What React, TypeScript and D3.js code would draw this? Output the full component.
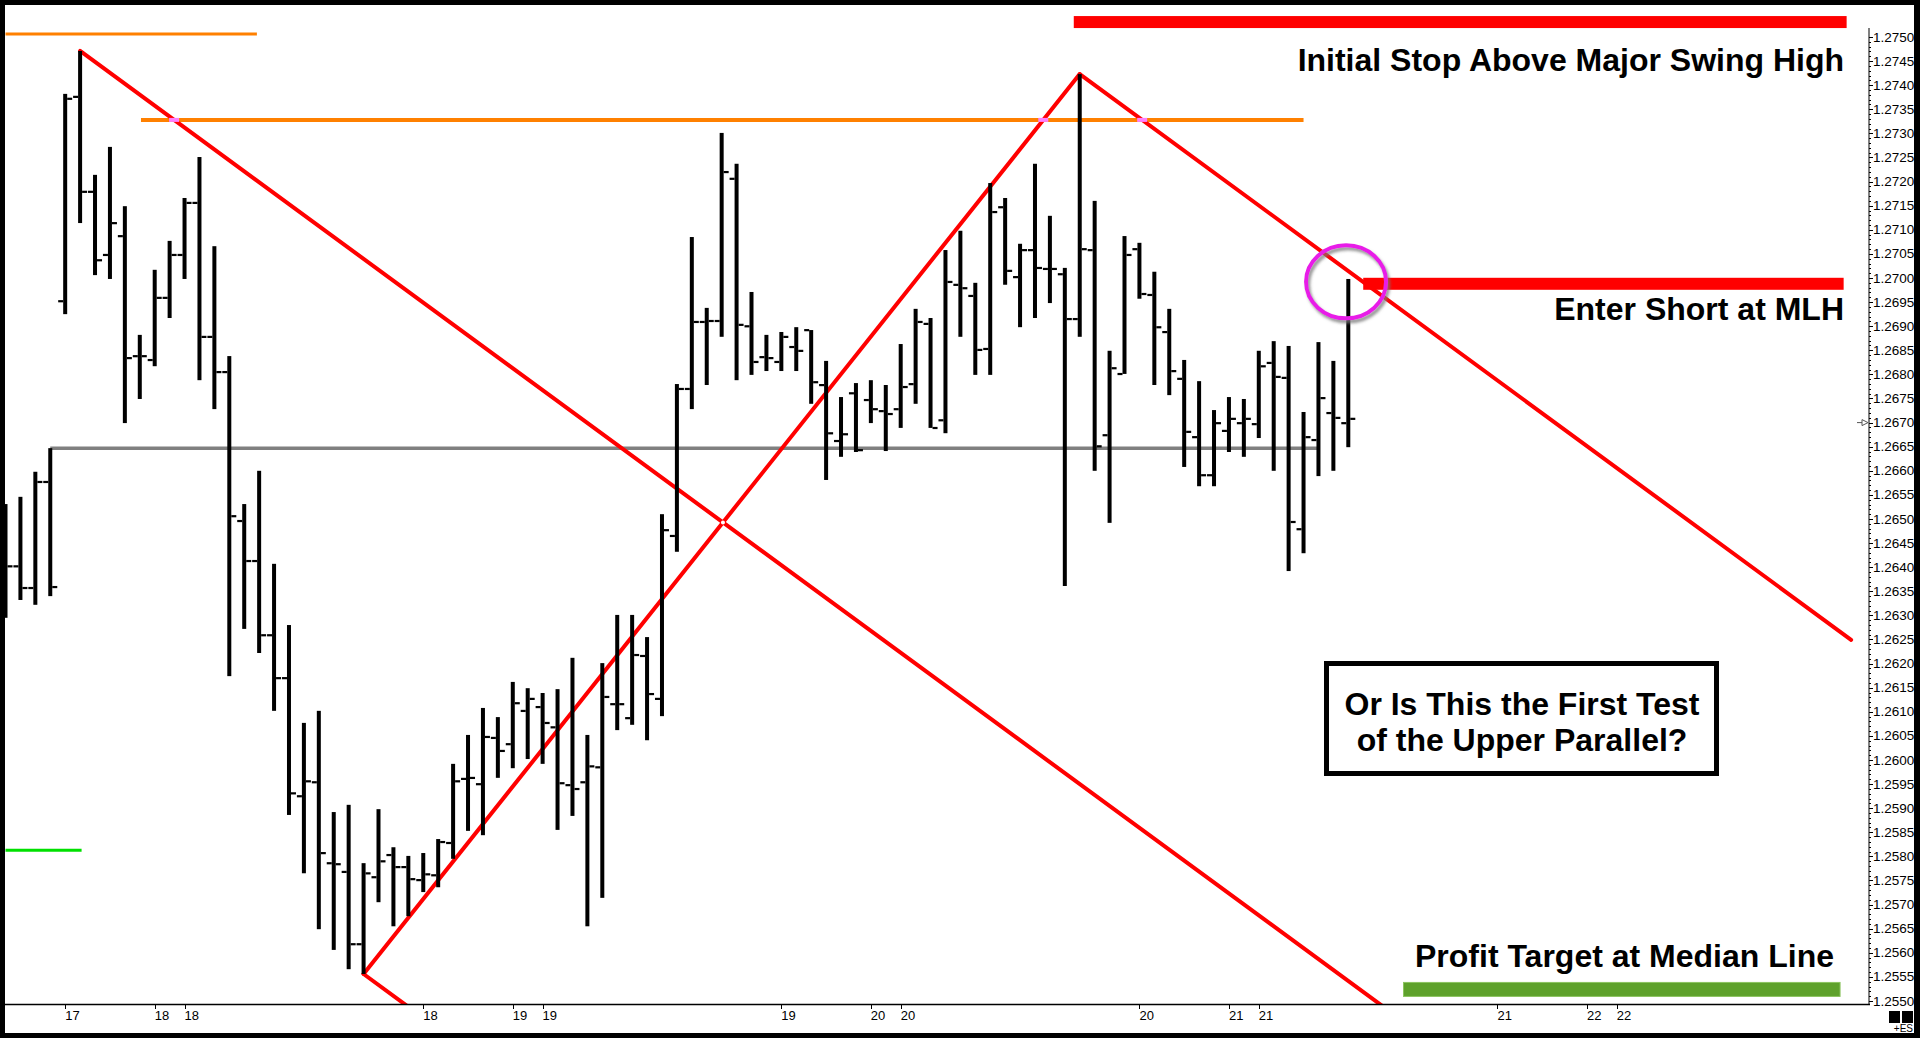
import React from "react";
import * as d3 from "d3";

// ---------- OHLC hourly bars (bar index 0..90) ----------
const OPEN = [
  1.26477, 1.26402, 1.26357, 1.26577, 1.26952, 1.27376, 1.27179, 1.27048, 1.27087, 1.26838,
  1.2683, 1.26959, 1.27048, 1.27156, 1.26878, 1.26805, 1.26496, 1.26413, 1.26259, 1.2617,
  1.25925, 1.25954, 1.25786, 1.25768, 1.25618, 1.25757, 1.25803, 1.25778, 1.25751, 1.25761,
  1.25828, 1.25961, 1.2595, 1.26046, 1.26033, 1.26102, 1.2611, 1.26068, 1.25948, 1.25954,
  1.25985, 1.26116, 1.26087, 1.26216, 1.26127, 1.26465, 1.2677, 1.26909, 1.26911, 1.27206,
  1.269, 1.26836, 1.26826, 1.26857, 1.26892, 1.26778, 1.26662, 1.26761, 1.26747, 1.26724,
  1.26728, 1.2678, 1.26905, 1.26705, 1.26986, 1.26963, 1.26853, 1.27147, 1.27002, 1.27058,
  1.27019, 1.27008, 1.26915, 1.27058, 1.26674, 1.26801, 1.2706, 1.26965, 1.26888, 1.26791,
  1.2667, 1.26591, 1.26683, 1.26699, 1.26697, 1.26824, 1.26793, 1.26479, 1.26664, 1.2672,
  1.26699,
];
const HIGH = [
  1.26531, 1.26546, 1.26598, 1.26647, 1.27382, 1.27471, 1.27214, 1.27272, 1.27149, 1.26882,
  1.27017, 1.27077, 1.27166, 1.27251, 1.27066, 1.26838, 1.26531, 1.266, 1.26407, 1.2628,
  1.26077, 1.26102, 1.25892, 1.25907, 1.25786, 1.25898, 1.25819, 1.25801, 1.25807, 1.25836,
  1.25992, 1.26052, 1.26108, 1.26089, 1.26162, 1.26149, 1.26139, 1.26147, 1.26212, 1.26052,
  1.26201, 1.26301, 1.26301, 1.26255, 1.2651, 1.2678, 1.27085, 1.26938, 1.27301, 1.27237,
  1.26971, 1.26882, 1.26888, 1.26898, 1.26892, 1.26828, 1.26753, 1.26782, 1.26788, 1.26778,
  1.26863, 1.26936, 1.26917, 1.27058, 1.27098, 1.2699, 1.27197, 1.27166, 1.27071, 1.27237,
  1.27129, 1.27021, 1.27423, 1.2716, 1.26849, 1.27087, 1.27073, 1.27013, 1.26936, 1.2683,
  1.26786, 1.26726, 1.26753, 1.26749, 1.26849, 1.26869, 1.26859, 1.26722, 1.26867, 1.26828,
  1.26998,
];
const LOW = [
  1.26295, 1.26332, 1.26322, 1.2634, 1.26925, 1.27114, 1.27006, 1.26998, 1.26699, 1.26749,
  1.26817, 1.26917, 1.26998, 1.26788, 1.26728, 1.26174, 1.26272, 1.26222, 1.26102, 1.25886,
  1.25765, 1.25649, 1.25606, 1.25566, 1.25556, 1.25705, 1.25655, 1.25676, 1.25726, 1.25736,
  1.25795, 1.25853, 1.25844, 1.25963, 1.25983, 1.26002, 1.25992, 1.25855, 1.25884, 1.25655,
  1.25714, 1.26062, 1.26073, 1.26041, 1.26091, 1.26432, 1.26728, 1.26778, 1.26878, 1.26788,
  1.26799, 1.26807, 1.26807, 1.26807, 1.26739, 1.26581, 1.26629, 1.26639, 1.26699, 1.26641,
  1.26689, 1.26739, 1.26689, 1.26678, 1.26878, 1.26799, 1.26799, 1.26986, 1.26898, 1.26917,
  1.26948, 1.26361, 1.26878, 1.266, 1.26492, 1.26801, 1.26957, 1.26778, 1.26757, 1.26608,
  1.26568, 1.26568, 1.26639, 1.26629, 1.26668, 1.266, 1.26392, 1.26429, 1.26589, 1.266,
  1.26649,
];
const CLOSE = [
  1.26402, 1.26357, 1.26577, 1.26359, 1.27372, 1.27179, 1.27037, 1.27114, 1.26834, 1.26838,
  1.26959, 1.27048, 1.27156, 1.26878, 1.26805, 1.26506, 1.26413, 1.26259, 1.2617, 1.25931,
  1.25956, 1.25807, 1.25784, 1.25618, 1.25765, 1.2579, 1.25778, 1.25753, 1.25763, 1.2583,
  1.25956, 1.25963, 1.26048, 1.26019, 1.26118, 1.26127, 1.26077, 1.25952, 1.2594, 1.25987,
  1.26131, 1.26116, 1.26218, 1.26137, 1.26477, 1.2677, 1.26909, 1.26911, 1.2722, 1.26903,
  1.26826, 1.26834, 1.26878, 1.26849, 1.26784, 1.26678, 1.26676, 1.26643, 1.26728, 1.26718,
  1.26774, 1.26909, 1.26689, 1.26992, 1.26979, 1.26851, 1.27137, 1.27015, 1.27058, 1.27021,
  1.27019, 1.26915, 1.2706, 1.26651, 1.26813, 1.27048, 1.26967, 1.26898, 1.26807, 1.26681,
  1.26591, 1.26699, 1.26708, 1.26708, 1.26817, 1.26795, 1.26494, 1.2667, 1.26751, 1.2671,
  1.26708,
];

// ---------- axes ----------
const X_TICK_BARS = [4, 10, 12, 28, 34, 36, 52, 58, 60, 76, 82, 84, 100, 106, 108];
const X_TICK_LABELS = ["17", "18", "18", "18", "19", "19", "19", "20", "20", "20", "21", "21", "21", "22", "22"];
const Y_MIN = 1.255;
const Y_MAX = 1.275;
const Y_TICKS = d3.range(0, 41).map((i) => +(Y_MIN + i * 0.0005).toFixed(4));
const Y_MINOR = d3.range(0, 201).map((i) => +(Y_MIN + i * 0.0001).toFixed(4));
const LAST_PRICE = 1.267;

// ---------- pitchfork ----------
const PIVOT_BARS = [5, 24, 72];
const PIVOT_PRICES = [1.27471, 1.25556, 1.27423];
const PARALLEL_SLOPE = -0.000227; // price per bar
const PARALLEL_END_BARS = [96, 30, 123.7];

// ---------- horizontal reference lines ----------
const LEVEL_PRICES = [1.27506, 1.27328, 1.26647, 1.25813];
const LEVEL_FROM = [0, 9.08, 3, 0];
const LEVEL_TO = [16.85, 87.0, 88, 5.1];
const LEVEL_COLORS = ["#ff8000", "#ff8000", "#808080", "#00e000"];
const LEVEL_WIDTHS = [3, 4, 3.5, 3];

// ---------- thick zones ----------
const ZONE_PRICES = [1.27531, 1.26988, 1.25524];
const ZONE_FROM = [71.6, 91.0, 93.7];
const ZONE_TO = [123.4, 123.2, 122.96];
const ZONE_COLORS = ["#ff0000", "#ff0000", "#5ea12b"];

// ---------- highlight ----------
const CIRCLE_BAR = [89.85];
const CIRCLE_PRICE = [1.26992];

const W = 1920;
const H = 1038;
const PLOT_L = 5;
const PLOT_R = 1869;
const PLOT_T = 5;
const PLOT_B = 1004;

export default function App() {
  const x = d3.scaleLinear().domain([0, 124]).range([5.5, 5.5 + 14.92 * 124]);
  const y = d3.scaleLinear().domain([Y_MIN, Y_MAX]).range([1001, 37]);

  const bars = OPEN.map((o, i) => ({ i, o, h: HIGH[i], l: LOW[i], c: CLOSE[i] }));

  // pitchfork segments
  const segs: { x1: number; y1: number; x2: number; y2: number }[] = [];
  PIVOT_BARS.forEach((b, k) => {
    const p = PIVOT_PRICES[k];
    const e = PARALLEL_END_BARS[k];
    segs.push({ x1: x(b), y1: y(p), x2: x(e), y2: y(p + (e - b) * PARALLEL_SLOPE) });
  });
  segs.push({ x1: x(PIVOT_BARS[1]), y1: y(PIVOT_PRICES[1]), x2: x(PIVOT_BARS[2]), y2: y(PIVOT_PRICES[2]) });

  // intersections of red lines with the orange resistance line
  const resP = LEVEL_PRICES[1];
  const cross1 = PIVOT_BARS[0] + (resP - PIVOT_PRICES[0]) / PARALLEL_SLOPE;
  const cross3 = PIVOT_BARS[2] + (resP - PIVOT_PRICES[2]) / PARALLEL_SLOPE;
  const bcSlope = (PIVOT_PRICES[2] - PIVOT_PRICES[1]) / (PIVOT_BARS[2] - PIVOT_BARS[1]);
  const cross2 = PIVOT_BARS[1] + (resP - PIVOT_PRICES[1]) / bcSlope;
  // intersection of line A and line BC
  const xi =
    (PIVOT_PRICES[1] - PIVOT_BARS[1] * bcSlope - (PIVOT_PRICES[0] - PIVOT_BARS[0] * PARALLEL_SLOPE)) /
    (PARALLEL_SLOPE - bcSlope);
  const yi = PIVOT_PRICES[1] + (xi - PIVOT_BARS[1]) * bcSlope;

  const font = "'Liberation Sans', Arial, Helvetica, sans-serif";

  return (
    <div style={{ position: "absolute", left: 0, top: 0 }}>
      <svg width={W} height={H} style={{ display: "block" }}>
        <defs>
          <clipPath id="plot">
            <rect x={PLOT_L} y={PLOT_T} width={PLOT_R - PLOT_L} height={PLOT_B - PLOT_T} />
          </clipPath>
          <filter id="shadow" x="-30%" y="-30%" width="160%" height="160%">
            <feDropShadow dx="2" dy="3" stdDeviation="1.5" floodColor="#777" floodOpacity="0.8" />
          </filter>
        </defs>
        <rect x={0} y={0} width={W} height={H} fill="#000" />
        <rect x={5} y={5} width={1909} height={1028} fill="#fff" />

        <g clipPath="url(#plot)">
          {/* horizontal levels */}
          {LEVEL_PRICES.map((p, k) => (
            <line
              key={"lv" + k}
              x1={x(LEVEL_FROM[k])}
              x2={x(LEVEL_TO[k])}
              y1={y(p)}
              y2={y(p)}
              stroke={LEVEL_COLORS[k]}
              strokeWidth={LEVEL_WIDTHS[k]}
            />
          ))}
          {/* pitchfork */}
          {segs.map((s, k) => (
            <line key={"pf" + k} x1={s.x1} y1={s.y1} x2={s.x2} y2={s.y2} stroke="#ff0000" strokeWidth={4} strokeLinecap="round" />
          ))}
          {[cross1, cross2, cross3].map((c, k) => (
            <rect key={"pk" + k} x={x(c) - 5} y={y(resP) - 2} width={10} height={4} fill="#ff80ff" />
          ))}
          <circle cx={x(xi)} cy={y(yi)} r={2} fill="#fff" />

          {/* OHLC bars */}
          {bars.map((b) => {
            const cx = x(b.i);
            return (
              <g key={"b" + b.i} fill="#000">
                <rect x={cx - 2} y={y(b.h)} width={4} height={y(b.l) - y(b.h)} />
                <rect x={cx - 7} y={y(b.o) - 1} width={5} height={2.2} />
                <rect x={cx + 2} y={y(b.c) - 1} width={5} height={2.2} />
              </g>
            );
          })}

          {/* zones */}
          {ZONE_PRICES.map((p, k) => (
            <rect
              key={"z" + k}
              x={x(ZONE_FROM[k])}
              width={x(ZONE_TO[k]) - x(ZONE_FROM[k])}
              y={y(p) - (k === 2 ? 7 : 6)}
              height={k === 2 ? 14 : 12}
              fill={ZONE_COLORS[k]}
              stroke={k === 2 ? "#8cc460" : "none"}
              strokeWidth={1}
            />
          ))}

          {/* highlight circle */}
          {CIRCLE_BAR.map((cb, k) => (
            <ellipse
              key={"c" + k}
              cx={x(cb)}
              cy={y(CIRCLE_PRICE[k])}
              rx={40}
              ry={36.5}
              fill="none"
              stroke="#e81ee8"
              strokeWidth={4}
              filter="url(#shadow)"
            />
          ))}
        </g>

        {/* annotations */}
        <text x={1844} y={71} textAnchor="end" fontFamily={font} fontWeight="bold" fontSize={32} fill="#000">
          Initial Stop Above Major Swing High
        </text>
        <text x={1844} y={320} textAnchor="end" fontFamily={font} fontWeight="bold" fontSize={32} fill="#000">
          Enter Short at MLH
        </text>
        <text x={1834} y={967} textAnchor="end" fontFamily={font} fontWeight="bold" fontSize={32} fill="#000">
          Profit Target at Median Line
        </text>
        <rect x={1326.5} y={663.5} width={390} height={110} fill="#fff" stroke="#000" strokeWidth={5} />
        <text x={1522} y={715} textAnchor="middle" fontFamily={font} fontWeight="bold" fontSize={32} fill="#000">
          Or Is This the First Test
        </text>
        <text x={1522} y={751} textAnchor="middle" fontFamily={font} fontWeight="bold" fontSize={32} fill="#000">
          of the Upper Parallel?
        </text>

        {/* y axis */}
        <line x1={PLOT_R} x2={PLOT_R} y1={28} y2={PLOT_B} stroke="#000" strokeWidth={1} />
        {Y_MINOR.map((v) => (
          <line key={"ym" + v} x1={PLOT_R} x2={PLOT_R + 2} y1={Math.round(y(v)) + 0.5} y2={Math.round(y(v)) + 0.5} stroke="#000" />
        ))}
        {Y_TICKS.map((v) => (
          <g key={"yt" + v}>
            <line x1={PLOT_R} x2={PLOT_R + 4} y1={Math.round(y(v)) + 0.5} y2={Math.round(y(v)) + 0.5} stroke="#000" />
            <text x={PLOT_R + 4} y={y(v) + 4.5} fontFamily={font} fontSize={13.5} fill="#000">
              {v.toFixed(4)}
            </text>
          </g>
        ))}
        {/* last price marker */}
        <g stroke="#555" strokeWidth={1} fill="#fff">
          <line x1={PLOT_R - 12} x2={PLOT_R - 7} y1={y(LAST_PRICE)} y2={y(LAST_PRICE)} />
          <path d={`M${PLOT_R - 7},${y(LAST_PRICE) - 3} L${PLOT_R - 1},${y(LAST_PRICE)} L${PLOT_R - 7},${y(LAST_PRICE) + 3} Z`} />
        </g>

        {/* x axis */}
        <line x1={PLOT_L} x2={PLOT_R + 1} y1={PLOT_B + 0.5} y2={PLOT_B + 0.5} stroke="#000" strokeWidth={1.5} />
        {X_TICK_BARS.map((b, k) => (
          <g key={"xt" + k}>
            <line x1={Math.round(x(b)) + 0.5} x2={Math.round(x(b)) + 0.5} y1={PLOT_B} y2={PLOT_B + 5} stroke="#000" />
            <text
              x={x(b)}
              y={1020}
              fontFamily="'Liberation Sans Narrow', 'Arial Narrow', 'Liberation Sans', sans-serif"
              fontSize={13}
              fill="#000"
            >
              {X_TICK_LABELS[k]}
            </text>
          </g>
        ))}

        {/* bottom-right widgets */}
        <rect x={1889} y={1011} width={11} height={12} fill="#000" />
        <rect x={1902} y={1011} width={11} height={12} fill="#000" />
        <text x={1913} y={1032} textAnchor="end" fontFamily={font} fontSize={10} fill="#000">
          +ES
        </text>
      </svg>
    </div>
  );
}
